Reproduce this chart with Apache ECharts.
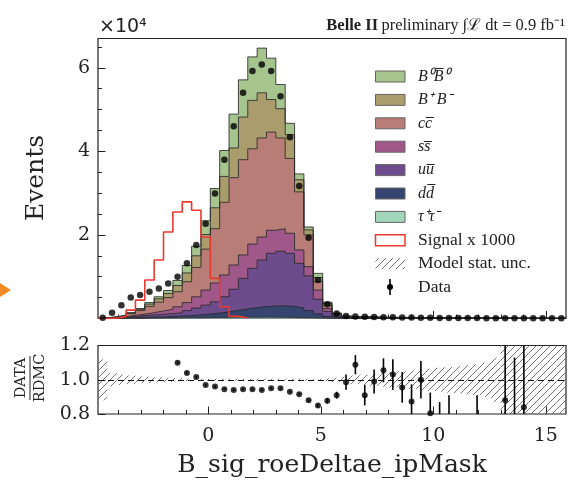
<!DOCTYPE html>
<html><head><meta charset="utf-8">
<script src="https://cdn.jsdelivr.net/npm/echarts@6/dist/echarts.min.js"></script>
<style>html,body{margin:0;padding:0;background:#fff}#c{width:576px;height:484px}</style>
</head><body><div id="c"></div>
<script>
// ---------- binning ----------
const binLo = -4.9, binWidth = 0.416, nBins = 50;

// ---------- MC components (units of 10^4 events), bins 0..49 ----------
const tautau = [0.001,0.002,0.004,0.006,0.008,0.010,0.012,0.014,0.016,0.018,0.020,0.022,0.024,0.026,0.028,0.030,0.030,0.030,0.030,0.028,0.025,0.020,0.015,0.010,0.005,0.002,0.001,
  0,0,0,0,0,0,0,0,0,0,0,0,0,0,0,0,0,0,0,0,0,0,0];
const ddbar = [0.002,0.004,0.008,0.014,0.020,0.024,0.028,0.034,0.042,0.052,0.065,0.083,0.106,0.134,0.167,0.200,0.230,0.255,0.270,0.277,0.265,0.235,0.175,0.100,0.045,0.018,0.007,
  0.004,0.004,0.003,0.003,0.003,0.003,0.002,0.002,0.002,0.002,0.002,0.002,0.002,0.001,0.001,0.001,0.001,0.001,0.001,0.001,0.001,0.001,0.001];
const uubar = [0.004,0.010,0.018,0.030,0.042,0.051,0.060,0.067,0.082,0.120,0.165,0.215,0.270,0.360,0.505,0.730,0.940,1.115,1.260,1.305,1.270,1.065,0.830,0.350,0.120,0.040,0.017,
  0.013,0.013,0.011,0.009,0.008,0.008,0.008,0.006,0.006,0.005,0.005,0.005,0.005,0.004,0.004,0.004,0.003,0.003,0.003,0.003,0.003,0.002,0.002];
const ssbar = [0.003,0.008,0.014,0.025,0.035,0.055,0.080,0.105,0.140,0.190,0.270,0.360,0.450,0.520,0.580,0.560,0.580,0.550,0.550,0.540,0.480,0.320,0.220,0.220,0.070,0.025,0.011,
  0.006,0.007,0.005,0.004,0.004,0.004,0.004,0.003,0.003,0.003,0.003,0.002,0.002,0.002,0.002,0.002,0.002,0.002,0.001,0.001,0.001,0.001,0.001];
const ccbar = [0.003,0.010,0.022,0.040,0.085,0.150,0.210,0.280,0.360,0.500,0.700,0.980,1.300,1.740,2.090,2.280,2.280,2.370,2.350,2.170,1.790,1.390,0.760,0.200,0.080,0.025,0.012,
  0.014,0.015,0.012,0.009,0.009,0.009,0.008,0.007,0.007,0.006,0.006,0.006,0.005,0.005,0.005,0.004,0.004,0.003,0.003,0.003,0.003,0.003,0.003];
const bpbm = [0.001,0.004,0.008,0.015,0.030,0.055,0.080,0.100,0.150,0.210,0.280,0.350,0.500,0.620,0.710,1.020,1.160,1.080,0.780,0.700,0.570,0.290,0.120,0.100,0.040,0.012,0.006,
  0.003,0.003,0.002,0.002,0.002,0.001,0.002,0.001,0.001,0.001,0.001,0.001,0.001,0.001,0.001,0.001,0.001,0.001,0.001,0,0,0,0];
const b0b0 = [0.001,0.002,0.006,0.010,0.020,0.035,0.050,0.070,0.120,0.180,0.230,0.330,0.460,0.620,0.810,0.890,1.040,1.070,0.990,0.580,0.270,0.140,0.070,0.100,0.030,0.008,0.006,
  0.002,0.002,0.002,0.001,0.001,0.001,0.001,0.001,0.001,0.001,0,0,0,0.001,0,0,0,0,0,0,0,0,0];

// ---------- signal x 1000 (units of 10^4) ----------
const signal = [0,0.01,0.045,0.20,0.44,0.92,1.40,2.07,2.55,2.79,2.59,1.95,0.96,0.28,0.05,0.01,
  0,0,0,0,0,0,0,0,0,0,0,0,0,0,0,0,0,0,0,0,0,0,0,0,0,0,0,0,0,0,0,0,0,0];

// ---------- data (units of 10^4) ----------
const dataVals = [0.02,0.14,0.32,0.50,0.56,0.64,0.72,0.84,1.00,1.32,1.76,2.27,2.99,3.80,4.60,5.40,5.92,6.08,5.92,5.32,4.34,3.17,1.93,0.92,0.34,0.12,0.06,
  0.046,0.040,0.035,0.030,0.028,0.025,0.022,0.020,0.016,0.013,0.013,0.011,0.010,0.009,0.008,0.008,0.007,0.006,0.006,0.005,0.005,0.004,0.004];

// ---------- ratio panel ----------
const ratio = [null,null,null,null,null,null,null,null,
  1.10,1.04,1.016,0.97,0.96,0.945,0.94,0.945,0.945,0.94,0.95,0.95,0.93,0.916,0.88,0.85,0.877,0.91,
  0.986,1.088,0.91,0.99,1.055,1.03,0.955,0.873,1.0,0.805,0.75,0.78,null,null,0.70,null,null,0.88,0.60,0.84,
  null,null,null,null];
const ratioErr = [null,null,null,null,null,null,null,null,
  0.006,0.006,0.006,0.005,0.005,0.005,0.005,0.005,0.005,0.005,0.005,0.005,0.005,0.006,0.008,0.01,0.015,0.02,
  0.045,0.056,0.06,0.07,0.07,0.09,0.09,0.10,0.11,0.12,0.12,0.13,null,null,0.21,null,null,0.60,0.53,0.60,
  null,null,null,null];
const mcUnc = [0.12,0.04,0.03,0.025,0.02,0.018,0.015,0.012,0.01,0.008,
  0.006,0.006,0.006,0.006,0.006,0.006,0.006,0.006,0.006,0.006,0.006,0.006,0.006,0.006,
  0.008,0.012,0.018,0.025,0.03,0.035,0.04,0.045,0.05,0.055,0.06,0.065,0.07,0.075,0.08,0.085,0.09,0.10,0.13,
  0.5,0.5,0.5,0.5,0.5,0.5,0.5];

// ---------- tick labels ----------
const xMajor = [0,5,10,15];
const yMainLabels = [2,4,6];
const legendLabels = ['B⁰B̅⁰','B⁺ B⁻','cc̅','ss̅','uu̅','dd̅','τ⁺τ⁻','Signal x 1000','Model stat. unc.','Data'];

// ---------- derived ----------
const edges = Array.from({length:nBins+1},(_,i)=>+(binLo+i*binWidth).toFixed(4));
const centers = edges.slice(0,nBins).map((e,i)=>(e+edges[i+1])/2);
const xMin = edges[0], xMax = edges[nBins];

const comps = [
  {name:'tt', v:tautau, color:'#a2d6bb'},
  {name:'dd', v:ddbar, color:'#35456f'},
  {name:'uu', v:uubar, color:'#6d4c8e'},
  {name:'ss', v:ssbar, color:'#a0588a'},
  {name:'cc', v:ccbar, color:'#b87d77'},
  {name:'bp', v:bpbm, color:'#ab9c6d'},
  {name:'b0', v:b0b0, color:'#a6c48e'}
];
let run = new Array(nBins).fill(0);
comps.forEach(c=>{ run = run.map((r,i)=>r+c.v[i]); c.cum = run.slice(); });

function stepData(vals, from, to){
  const d=[[edges[from],0]];
  for(let i=from;i<=to;i++) d.push([edges[i],vals[i]]);
  d.push([edges[to+1],vals[to]]); d.push([edges[to+1],0]);
  return d;
}

function hatchCanvas(color, s){
  const c=document.createElement('canvas'); c.width=s; c.height=s;
  const g=c.getContext('2d'); g.strokeStyle=color; g.lineWidth=1;
  g.beginPath();
  g.moveTo(0,s); g.lineTo(s,0);
  g.moveTo(-1,1); g.lineTo(1,-1);
  g.moveTo(s-1,s+1); g.lineTo(s+1,s-1);
  g.stroke();
  return c;
}
const hatch = {image: hatchCanvas('#707070', 7), repeat:'repeat'};

const serif = 'DejaVu Serif';
const tickColor = '#222';

const series = [];
comps.slice().reverse().forEach(c=>{
  series.push({type:'line', xAxisIndex:0, yAxisIndex:0, step:'end', symbol:'none', silent:true,
    data: stepData(c.cum,0,nBins-1),
    lineStyle:{color:'#2a2a2a', width:1, opacity:0.85},
    areaStyle:{color:c.color, opacity:1}});
});
let sFirst = signal.findIndex(v=>v>0), sLast = nBins-1-signal.slice().reverse().findIndex(v=>v>0);
series.push({type:'line', xAxisIndex:0, yAxisIndex:0, step:'end', symbol:'none', silent:true,
  data: stepData(signal, Math.max(0,sFirst-1), sLast), lineStyle:{color:'#e8392f', width:1.6}});
series.push({type:'scatter', xAxisIndex:0, yAxisIndex:0, silent:true, symbolSize:6.5,
  itemStyle:{color:'#000'}, data: centers.map((c,i)=>[c,dataVals[i]]), z:5});

// ratio band
series.push({type:'custom', xAxisIndex:2, yAxisIndex:2, silent:true,
  data: mcUnc.map((u,k)=>[edges[k],edges[k+1],1-u,1+u]),
  encode:{x:[0,1], y:[2,3]},
  renderItem(params, api){
    const p0 = api.coord([api.value(0), api.value(3)]);
    const p1 = api.coord([api.value(1), api.value(2)]);
    const cs = params.coordSys;
    const r = echarts.graphic.clipRectByRect({x:p0[0], y:p0[1], width:p1[0]-p0[0], height:p1[1]-p0[1]},
      {x:cs.x, y:cs.y, width:cs.width, height:cs.height});
    return r ? {type:'rect', shape:r, style:{fill:hatch}} : null;
  }});
// error bars
const ebData = [];
ratio.forEach((r,i)=>{ if(r!==null) ebData.push([centers[i], r-ratioErr[i], r+ratioErr[i]]); });
series.push({type:'custom', xAxisIndex:2, yAxisIndex:2, silent:true, data: ebData, encode:{x:0, y:[1,2]},
  renderItem(params, api){
    const a = api.coord([api.value(0), api.value(1)]), b = api.coord([api.value(0), api.value(2)]);
    const cs = params.coordSys;
    const top = Math.max(Math.min(a[1],b[1]), cs.y), bot = Math.min(Math.max(a[1],b[1]), cs.y+cs.height);
    if (bot<=top) return null;
    return {type:'line', shape:{x1:a[0], y1:top, x2:a[0], y2:bot}, style:{stroke:'#000', lineWidth:1.6}};
  }, z:4});
series.push({type:'scatter', xAxisIndex:2, yAxisIndex:2, silent:true, symbolSize:6, clip:true,
  itemStyle:{color:'#000'}, z:5,
  data: ratio.map((r,i)=>r===null?null:[centers[i],r]).filter(d=>d),
  markLine:{silent:true, symbol:'none', label:{show:false}, data:[{yAxis:1}],
    lineStyle:{type:[6,4], color:'#111', width:1.2}}});

function xAxisBase(grid, ticks, len, labels){
  return {type:'value', gridIndex:grid, min:xMin, max:xMax, position:'bottom',
    axisLine:{show:false, onZero:false}, splitLine:{show:false},
    axisTick:{show:true, inside:true, length:len, customValues:ticks, lineStyle:{color:tickColor, width:1}},
    axisLabel: labels ? {show:true, customValues:xMajor, fontFamily:serif, fontSize:19, color:tickColor, margin:13} : {show:false}};
}
const minorX = Array.from({length:20},(_,i)=>i-4);
const minorYMain = Array.from({length:13},(_,i)=>0.5*(i+1));

const option = {
  animation:false,
  backgroundColor:'#fff',
  grid:[
    {left:98, top:38.5, width:468, height:280, show:true, borderColor:'#222', borderWidth:1.2, backgroundColor:'transparent'},
    {left:98, top:345.5, width:468, height:68.5, show:true, borderColor:'#222', borderWidth:1.2, backgroundColor:'transparent'}
  ],
  xAxis:[
    xAxisBase(0, minorX, 4, false),
    xAxisBase(0, xMajor, 7.5, false),
    xAxisBase(1, minorX, 4, false),
    xAxisBase(1, xMajor, 7.5, true)
  ],
  yAxis:[
    {type:'value', gridIndex:0, min:0, max:6.7, position:'left', axisLine:{show:false, onZero:false}, splitLine:{show:false},
     axisTick:{show:true, inside:true, length:7.5, customValues:[0,2,4,6], lineStyle:{color:tickColor}},
     axisLabel:{show:true, customValues:yMainLabels, fontFamily:serif, fontSize:19, color:tickColor, margin:8}},
    {type:'value', gridIndex:0, min:0, max:6.7, position:'left', axisLine:{show:false, onZero:false}, splitLine:{show:false},
     axisTick:{show:true, inside:true, length:4, customValues:minorYMain, lineStyle:{color:tickColor}},
     axisLabel:{show:false}},
    {type:'value', gridIndex:1, min:0.8, max:1.2, interval:0.2, position:'left', axisLine:{show:false, onZero:false}, splitLine:{show:false},
     axisTick:{show:true, inside:true, length:7.5, lineStyle:{color:tickColor}},
     axisLabel:{show:true, fontFamily:serif, fontSize:19, color:tickColor, margin:8, formatter:v=>v.toFixed(1)}}
  ],
  series,
  graphic: buildGraphics()
};

function buildGraphics(){
  const g = [];
  g.push({type:'text', x:99, y:27, style:{text:'×10⁴', fontFamily:'DejaVu Sans', fontSize:19, fill:'#222', align:'left', verticalAlign:'middle'}});
  g.push({type:'text', x:565, y:26, style:{
    text:'{b|Belle II} {n|preliminary ∫ℒ dt = 0.9 fb⁻¹}', align:'right', verticalAlign:'middle',
    rich:{b:{fontFamily:'Liberation Serif', fontWeight:'bold', fontSize:16.5, fill:'#222'},
          n:{fontFamily:'Liberation Serif', fontSize:16.5, fill:'#222'}}}});
  g.push({type:'text', x:36, y:178, rotation:Math.PI/2, style:{text:'Events', fontFamily:serif, fontSize:25, fill:'#222', align:'center', verticalAlign:'middle'}});
  g.push({type:'text', x:332, y:465, style:{text:'B_sig_roeDeltae_ipMask', fontFamily:serif, fontSize:25, fill:'#222', align:'center', verticalAlign:'middle'}});
  g.push({type:'group', x:30, y:378, rotation:Math.PI/2, children:[
    {type:'text', x:0, y:-9, style:{text:'DATA', fontFamily:serif, fontSize:14.5, fill:'#222', align:'center', verticalAlign:'middle'}},
    {type:'line', shape:{x1:-22, y1:0, x2:22, y2:0}, style:{stroke:'#222', lineWidth:1}},
    {type:'text', x:0, y:10, style:{text:'RDMC', fontFamily:serif, fontSize:14.5, fill:'#222', align:'center', verticalAlign:'middle'}}
  ]});
  // orange marker at left edge
  g.push({type:'polygon', shape:{points:[[0,283],[11,290],[0,297]]}, style:{fill:'#f28a25'}});
  // legend
  const legendColors = comps.slice().reverse().map(c=>c.color);
  legendLabels.forEach((lab,i)=>{
    const cy = 76.5 + 23.4*i;
    if(i<7){
      g.push({type:'rect', shape:{x:375.5, y:cy-5.5, width:29.5, height:11}, style:{fill:legendColors[i], stroke:'#666', lineWidth:1}});
      g.push({type:'text', x:418, y:cy, style:{text:lab, fontFamily:'Liberation Serif', fontStyle:'italic', fontSize:16, fill:'#222', verticalAlign:'middle'}});
    } else {
      if(i===7) g.push({type:'rect', shape:{x:375.5, y:cy-5.5, width:29.5, height:11}, style:{fill:'#fff', stroke:'#e8392f', lineWidth:1.5}});
      if(i===8) g.push({type:'rect', shape:{x:375.5, y:cy-5.5, width:29.5, height:11}, style:{fill:hatch}});
      if(i===9){
        g.push({type:'line', shape:{x1:390, y1:cy-8, x2:390, y2:cy+8}, style:{stroke:'#000', lineWidth:1.6}});
        g.push({type:'circle', shape:{cx:390, cy:cy, r:3}, style:{fill:'#000'}});
      }
      g.push({type:'text', x:418, y:cy, style:{text:lab, fontFamily:'Liberation Serif', fontSize:17.5, fill:'#222', verticalAlign:'middle'}});
    }
  });
  return g;
}

const chart = echarts.init(document.getElementById('c'), null, {renderer:'canvas', width:576, height:484});
chart.setOption(option);
</script></body></html>
